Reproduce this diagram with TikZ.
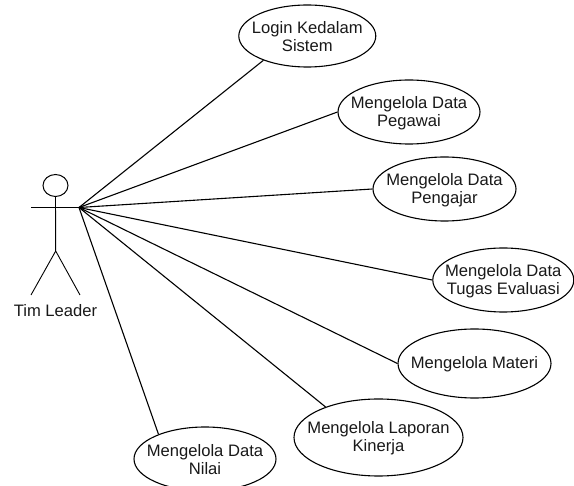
\documentclass[tikz,border=0pt]{standalone}
\usepackage{fontspec}
\setmainfont{Liberation Sans}
\usetikzlibrary{shapes.geometric}
\tikzset{
lbl/.style={font=\fontsize{16.6pt}{18pt}\selectfont,inner sep=0pt,align=center,text=black!90},
uc/.style={draw=black,line width=1.1pt,ellipse,inner sep=0pt,fill=white,label={[lbl,yshift=-0.8pt]center:{#1}}},
lnk/.style={draw=black,line width=1.1pt}}
\begin{document}
\begin{tikzpicture}[x=1pt,y=-1pt]
\useasboundingbox (0,0) rectangle (574,486);
\clip (0,0) rectangle (574,486);
\coordinate (hub) at (79,207.5);
\node[uc={Login Kedalam\\Sistem},minimum width=137pt,minimum height=62pt] (a) at (307.3,36) {};
\node[uc={Mengelola Data\\Pegawai},minimum width=142pt,minimum height=64pt] (b) at (409,112) {};
\node[uc={Mengelola Data\\Pengajar},minimum width=143pt,minimum height=64pt] (c) at (444.5,189) {};
\node[uc={Mengelola Data\\Tugas Evaluasi},minimum width=141pt,minimum height=64pt] (d) at (503.3,280) {};
\node[uc={Mengelola Materi},minimum width=153pt,minimum height=69pt] (e) at (474.5,363.5) {};
\node[uc={Mengelola Laporan\\Kinerja},minimum width=169pt,minimum height=77pt] (f) at (378.5,437.5) {};
\node[uc={Mengelola Data\\Nilai},minimum width=142pt,minimum height=64pt] (g) at (205,459) {};
\draw[lnk] (hub) -- (a.209);
\draw[lnk] (hub) -- (b.west);
\draw[lnk] (hub) -- (c.west);
\draw[lnk] (hub) -- (d.west);
\draw[lnk] (hub) -- (e.west);
\draw[lnk] (hub) -- (f.150.7);
\draw[lnk] (hub) -- (g.152);
\node[draw,ellipse,line width=1pt,minimum width=25pt,minimum height=22pt,inner sep=0pt] (head) at (55.5,185.5) {};
\coordinate (hip) at (55.7,251);
\coordinate (la) at (31,207.5);
\coordinate (lf) at (31,295);
\coordinate (rf) at (80,295);
\draw[lnk,line width=0.9pt] (head.south) -- (hip) (la) -- (hub) (lf) -- (hip) -- (rf);
\node[lbl] (t) at (55.5,310.5) {Tim Leader};
\end{tikzpicture}
\end{document}
